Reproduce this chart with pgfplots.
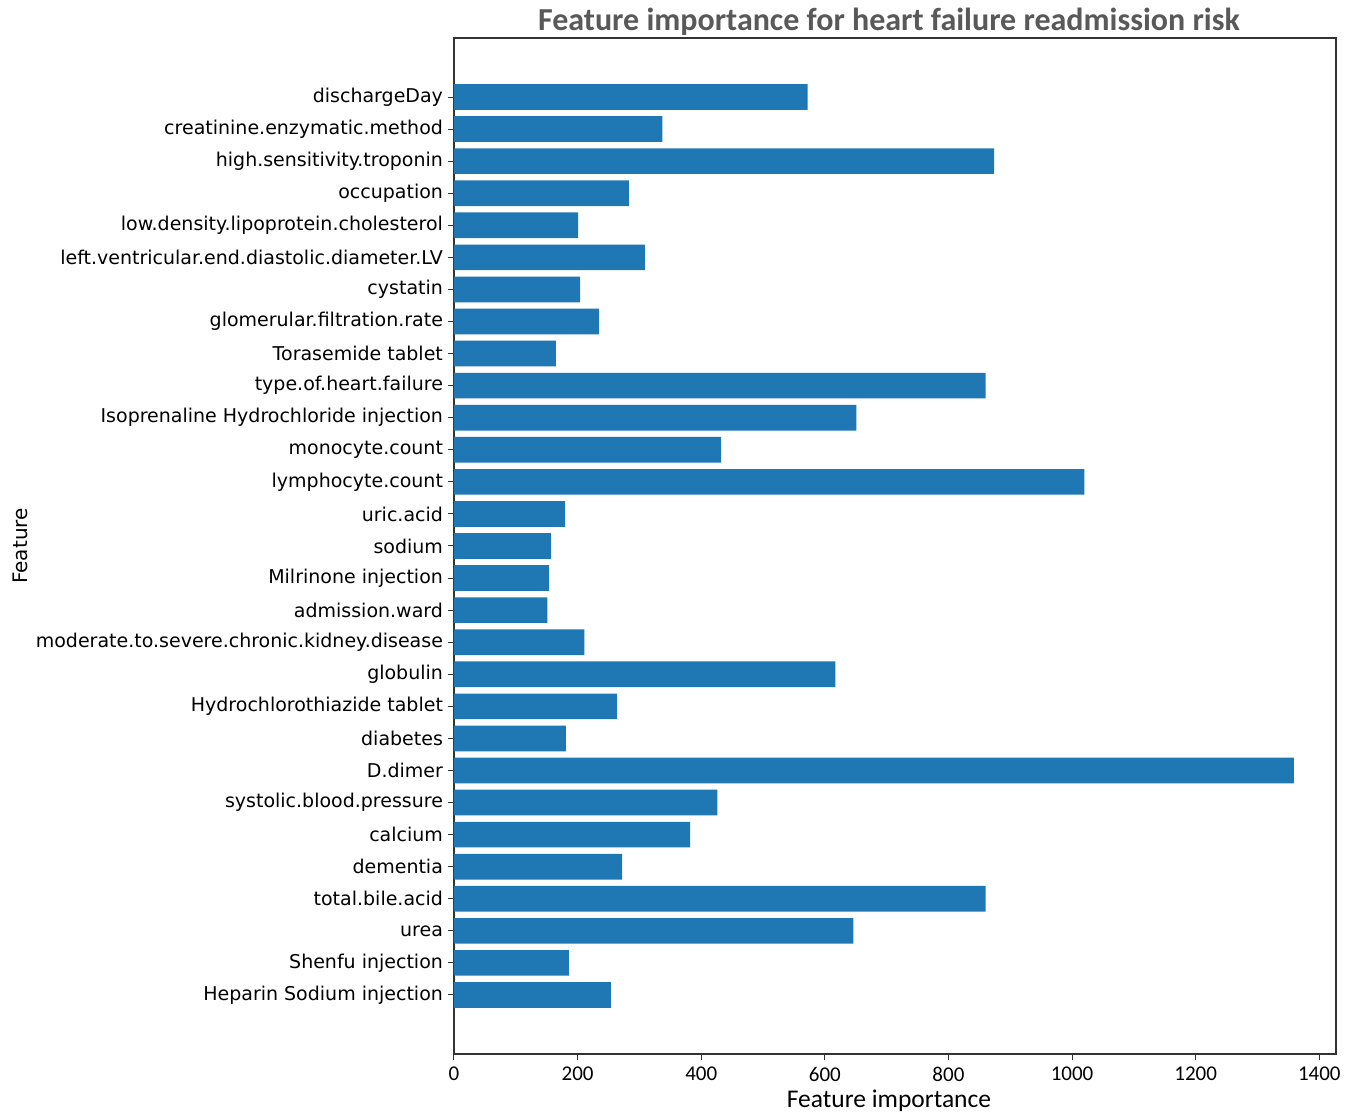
\documentclass[border=0pt]{standalone}
\usepackage{pgfplots}
\pgfplotsset{compat=1.18}
\usetikzlibrary{calc}
\usepackage{fontspec}
\setmainfont{DejaVu Sans}
\newfontfamily\carlito{Carlito}
\definecolor{barblue}{HTML}{1F77B4}
\definecolor{titlegray}{HTML}{595959}

\begin{document}
\begin{tikzpicture}
\begin{axis}[
    name=ax,
    scale only axis,
    width=441pt, height=508pt,
    xbar, bar width=0.8,
    xmin=0, xmax=1427,
    ymin=-1.84, ymax=29.84,
    y dir=reverse,
    xtick={0,200,...,1400},
    ytick={0,...,28},
    yticklabels={dischargeDay,creatinine.enzymatic.method,high.sensitivity.troponin,occupation,low.density.lipoprotein.cholesterol,left.ventricular.end.diastolic.diameter.LV,cystatin,glomerular.filtration.rate,Torasemide tablet,type.of.heart.failure,Isoprenaline Hydrochloride injection,monocyte.count,lymphocyte.count,uric.acid,sodium,Milrinone injection,admission.ward,moderate.to.severe.chronic.kidney.disease,globulin,Hydrochlorothiazide tablet,diabetes,D.dimer,systolic.blood.pressure,calcium,dementia,total.bile.acid,urea,Shenfu injection,Heparin Sodium injection},
    xtick pos=bottom, ytick pos=left,
    tick align=outside,
    major tick length=3pt,
    tick style={black!80, line width=0.5pt},
    axis line style={black!80, line width=0.6pt},
    /pgf/number format/assume math mode=true,
    /pgf/number format/1000 sep={},
    yticklabel style={font=\fontsize{9.5}{11}\selectfont, xshift=1pt},
    xticklabel style={font=\carlito\fontsize{10.5}{12}\selectfont},
    xlabel={Feature importance},
    xlabel style={font=\carlito\fontsize{12.75}{14}\selectfont, inner sep=0pt,
        at={(axis description cs:0.5,0)}, anchor=center, xshift=-3pt, yshift=-23.5pt},
    ylabel={Feature},
    ylabel style={font=\fontsize{10}{12}\selectfont, inner sep=0pt,
        at={(axis description cs:0,0.5)}, anchor=center, yshift=217pt},
]
\addplot[fill=barblue, draw=none] coordinates {
    (572,0) (337,1) (874,2) (283,3) (201,4) (309,5) (204,6) (235,7)
    (165,8) (860,9) (651,10) (432,11) (1020,12) (180,13) (157,14)
    (154,15) (151,16) (211,17) (617,18) (264,19) (181,20) (1359,21)
    (426,22) (382,23) (272,24) (860,25) (646,26) (186,27) (254,28)
};
\end{axis}
\node[font=\carlito\bfseries\fontsize{16}{18}\selectfont, text=titlegray,
      inner sep=0pt, anchor=base] at ($(ax.north)+(-3pt,3.5pt)$)
      {Feature importance for heart failure readmission risk};
\path ($(ax.south west)+(-227pt,-31.5pt)$) rectangle ($(ax.north east)+(12.5pt,19pt)$);
\end{tikzpicture}
\end{document}
